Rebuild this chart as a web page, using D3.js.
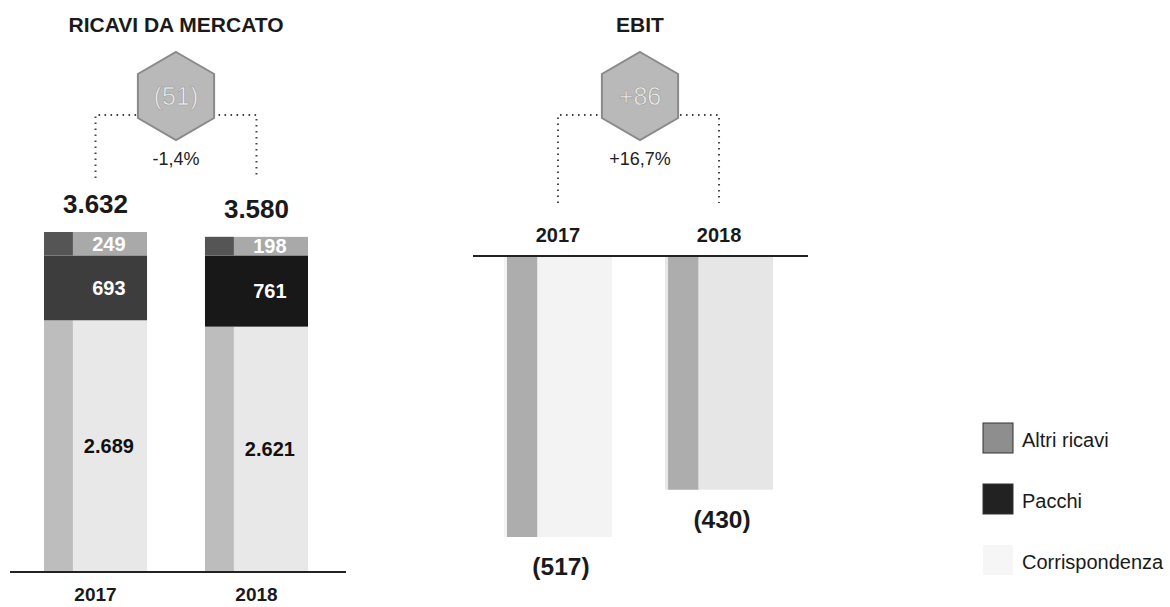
<!DOCTYPE html>
<html><head><meta charset="utf-8">
<script src="https://cdn.jsdelivr.net/npm/d3@7"></script>
<style>
html,body{margin:0;padding:0;background:#fff;}
text{font-family:"Liberation Sans",Arial,Helvetica,sans-serif;}
</style></head>
<body>
<svg id="chart" width="1170" height="607"></svg>
<script>
// ---- data ----
const years = ["2017", "2018"];
const altriRicavi = [249, 198];
const pacchi = [693, 761];
const corrispondenza = [2689, 2621];
const totaliRicavi = [3632, 3580];
const totaliLabels = ["3.632", "3.580"];
const corrLabels = ["2.689", "2.621"];
const ebit = [-517, -430];
const ebitLabels = ["(517)", "(430)"];
const deltaRicavi = "(51)";
const deltaRicaviPct = "-1,4%";
const deltaEbit = "+86";
const deltaEbitPct = "+16,7%";
const legendLabels = ["Altri ricavi", "Pacchi", "Corrispondenza"];

const svg = d3.select("#chart");

// ---- helpers ----
function hexagon(g, cx, cy, r, label) {
  const pts = d3.range(6).map(i => {
    const a = Math.PI / 3 * i - Math.PI / 2;
    return [cx + r * Math.cos(a), cy + r * Math.sin(a)];
  });
  g.append("polygon").attr("points", pts.map(p => p.join(",")).join(" "))
    .attr("fill", "#b9b9b9").attr("stroke", "#8a8a8a").attr("stroke-width", 2);
  g.append("text").attr("x", cx).attr("y", cy + 9).attr("text-anchor", "middle")
    .attr("font-size", 25).attr("fill", "#eeeeee").attr("stroke", "#9a9a9a").attr("stroke-width", 0.6)
    .text(label);
}
function connector(g, x1, x2, y, yEnd) {
  const path = d3.path();
  path.moveTo(x1, yEnd); path.lineTo(x1, y); path.lineTo(x2, y); path.lineTo(x2, yEnd);
  g.append("path").attr("d", path.toString()).attr("fill", "none")
    .attr("stroke", "#444").attr("stroke-width", 2).attr("stroke-dasharray", "1.6,4.4");
}

// ---- left panel: Ricavi da mercato ----
const left = svg.append("g");
const xL = d3.scaleBand().domain(years).range([44, 308]).paddingInner(0.36).paddingOuter(0);
const yL = d3.scaleLinear().domain([0, d3.max(totaliRicavi)]).range([572, 232]);
const bwL = xL.bandwidth();

left.append("text").attr("x", 176).attr("y", 32).attr("text-anchor", "middle")
  .attr("font-size", 21).attr("font-weight", "bold").attr("fill", "#1a1a1a").text("RICAVI DA MERCATO");

connector(left, xL(years[0]) + bwL / 2, xL(years[1]) + bwL / 2, 115, 178);
hexagon(left, 176, 96, 44, deltaRicavi);
left.append("text").attr("x", 176).attr("y", 165).attr("text-anchor", "middle")
  .attr("font-size", 18).attr("fill", "#222").text(deltaRicaviPct);

const segColors = { corr: "#e8e8e8", pacchi: ["#3d3d3d", "#181818"], altri: "#a9a9a9" };
years.forEach((yr, i) => {
  const x0 = xL(yr);
  const segs = [
    { key: "corr", v0: 0, v1: corrispondenza[i], fill: segColors.corr, label: corrLabels[i], tc: "#111" },
    { key: "pacchi", v0: corrispondenza[i], v1: corrispondenza[i] + pacchi[i], fill: segColors.pacchi[i], label: String(pacchi[i]), tc: "#fff" },
    { key: "altri", v0: corrispondenza[i] + pacchi[i], v1: totaliRicavi[i], fill: segColors.altri, label: String(altriRicavi[i]), tc: "#fff" }
  ];
  segs.forEach(s => {
    const yTop = yL(s.v1), yBot = yL(s.v0);
    left.append("rect").attr("x", x0).attr("y", yTop).attr("width", bwL).attr("height", yBot - yTop).attr("fill", s.fill);
    if (s.key !== "pacchi") {
      left.append("rect").attr("x", x0).attr("y", yTop).attr("width", bwL * 0.28).attr("height", yBot - yTop)
        .attr("fill", s.key === "altri" ? "#555" : "#bdbdbd");
    }
    left.append("text").attr("x", x0 + bwL * 0.63).attr("y", (yTop + yBot) / 2 + 7).attr("text-anchor", "middle")
      .attr("font-size", 20).attr("font-weight", "bold").attr("fill", s.tc).text(s.label);
  });
  left.append("text").attr("x", x0 + bwL / 2).attr("y", yL(totaliRicavi[i]) - 19).attr("text-anchor", "middle")
    .attr("font-size", 26).attr("font-weight", "bold").attr("fill", "#1a1a1a").text(totaliLabels[i]);
  left.append("text").attr("x", x0 + bwL / 2).attr("y", 601).attr("text-anchor", "middle")
    .attr("font-size", 19).attr("font-weight", "bold").attr("fill", "#1a1a1a").text(yr);
});
left.append("line").attr("x1", 10).attr("x2", 346).attr("y1", yL(0)).attr("y2", yL(0))
  .attr("stroke", "#222").attr("stroke-width", 2);

// ---- right panel: EBIT ----
const right = svg.append("g");
const xR = d3.scaleBand().domain(years).range([504, 773]).paddingInner(0.33).paddingOuter(0);
const yR = d3.scaleLinear().domain([d3.min(ebit), 0]).range([537, 256]);
const bwR = xR.bandwidth();

right.append("text").attr("x", 640).attr("y", 32).attr("text-anchor", "middle")
  .attr("font-size", 21).attr("font-weight", "bold").attr("fill", "#1a1a1a").text("EBIT");
connector(right, xR(years[0]) + bwR / 2, xR(years[1]) + bwR / 2, 115, 203);
hexagon(right, 640, 96, 44, deltaEbit);
right.append("text").attr("x", 640).attr("y", 165).attr("text-anchor", "middle")
  .attr("font-size", 18).attr("fill", "#222").text(deltaEbitPct);

years.forEach((yr, i) => {
  const x0 = xR(yr);
  const yTop = yR(0), yBot = yR(ebit[i]);
  right.append("rect").attr("x", x0).attr("y", yTop).attr("width", bwR).attr("height", yBot - yTop)
    .attr("fill", i === 0 ? "#f3f3f3" : "#e6e6e6");
  right.append("rect").attr("x", x0 + 3).attr("y", yTop).attr("width", bwR * 0.28).attr("height", yBot - yTop)
    .attr("fill", "#adadad");
  right.append("text").attr("x", x0 + bwR / 2).attr("y", 242).attr("text-anchor", "middle")
    .attr("font-size", 20).attr("font-weight", "bold").attr("fill", "#1a1a1a").text(yr);
  right.append("text").attr("x", x0 + bwR / 2 + 3).attr("y", yBot + 38).attr("text-anchor", "middle")
    .attr("font-size", 24.5).attr("font-weight", "bold").attr("fill", "#1a1a1a").text(ebitLabels[i]);
});
right.append("line").attr("x1", 473).attr("x2", 808).attr("y1", yR(0)).attr("y2", yR(0))
  .attr("stroke", "#222").attr("stroke-width", 2);

// ---- legend ----
const legFills = ["#8e8e8e", "#222", "#f6f6f6"];
const legend = svg.append("g");
legendLabels.forEach((lab, i) => {
  const y = 423 + i * 61;
  legend.append("rect").attr("x", 983).attr("y", y).attr("width", 30).attr("height", 30)
    .attr("fill", legFills[i]).attr("stroke", i < 2 ? "#333" : "none").attr("stroke-width", 1);
  legend.append("text").attr("x", 1022).attr("y", y + 24).attr("font-size", 20)
    .attr("fill", "#1a1a1a").text(lab);
});
</script>
</body></html>
